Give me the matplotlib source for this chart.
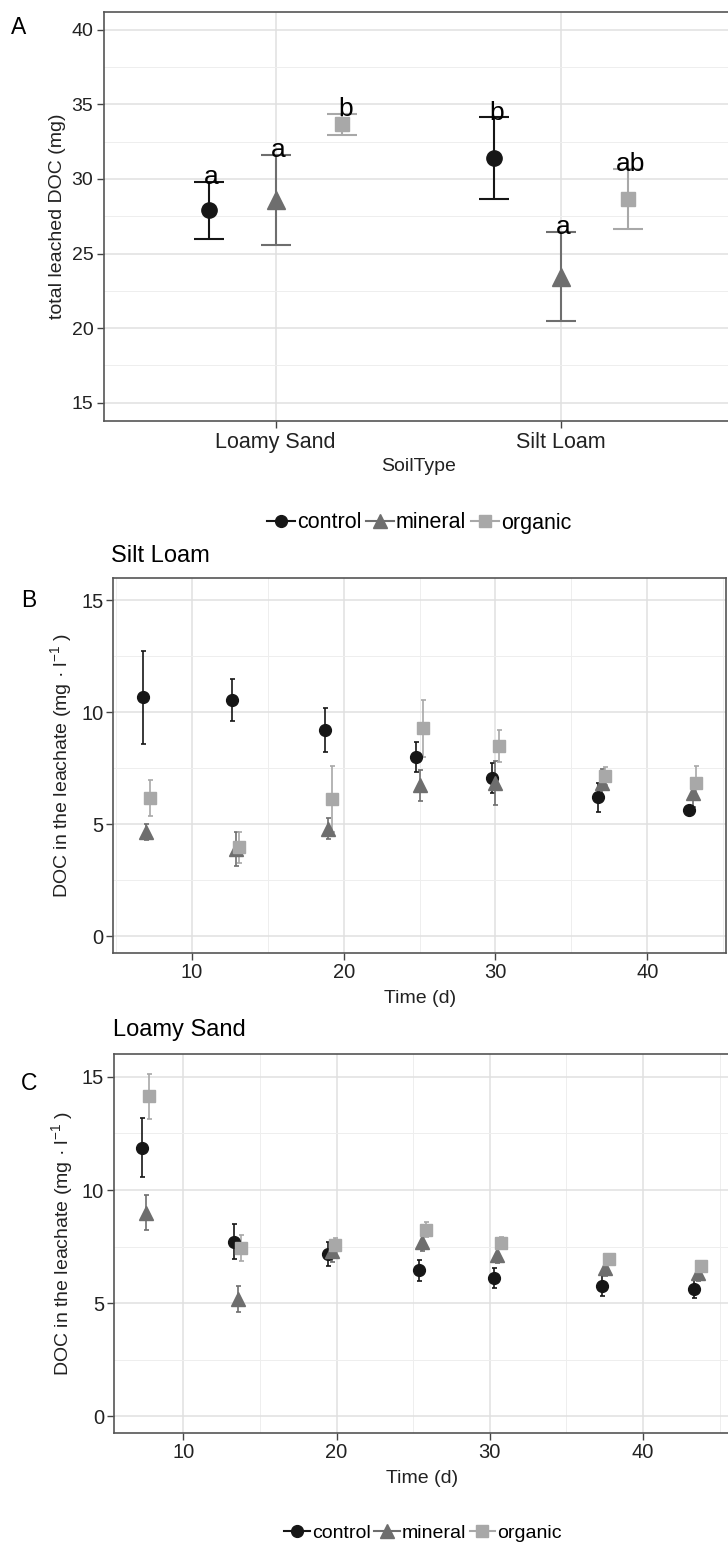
import matplotlib
matplotlib.use('Agg')
import matplotlib.pyplot as plt
from matplotlib.lines import Line2D
from matplotlib.ticker import MultipleLocator
import numpy as np

plt.rcParams['font.family'] = ['Liberation Sans', 'DejaVu Sans']
plt.rcParams['mathtext.fontset'] = 'custom'
plt.rcParams['mathtext.rm'] = 'Liberation Sans'
plt.rcParams['mathtext.it'] = 'Liberation Sans:italic'

# Panel A: total leached DOC per soil type
soil_types = ['Loamy Sand', 'Silt Loam']
treatments = ['control', 'mineral', 'organic']
total_control = [27.9, 31.4]
total_control_se = [1.92, 2.72]
total_mineral = [28.6, 23.45]
total_mineral_se = [3.0, 3.0]
total_organic = [33.65, 28.65]
total_organic_se = [0.68, 2.0]
letters_control = ['a', 'b']
letters_mineral = ['a', 'a']
letters_organic = ['b', 'ab']

# Panel B: Silt Loam time series
days_silt = [7, 12.9, 19, 25, 30, 37, 43]
silt_control = [10.67, 10.55, 9.22, 8.03, 7.08, 6.22, 5.65]
silt_control_se = [2.08, 0.92, 1.0, 0.67, 0.66, 0.65, 0.1]
silt_mineral = [4.66, 3.9, 4.8, 6.75, 6.85, 6.83, 6.39]
silt_mineral_se = [0.35, 0.75, 0.47, 0.7, 1.0, 0.66, 0.6]
silt_organic = [6.18, 3.98, 6.14, 9.29, 8.5, 7.17, 6.87]
silt_organic_se = [0.8, 0.7, 1.47, 1.27, 0.7, 0.41, 0.76]

# Panel C: Loamy Sand time series
days_sand = [7.55, 13.55, 19.7, 25.6, 30.5, 37.55, 43.6]
sand_control = [11.88, 7.72, 7.18, 6.46, 6.10, 5.78, 5.63]
sand_control_se = [1.31, 0.78, 0.53, 0.47, 0.45, 0.47, 0.4]
sand_mineral = [9.0, 5.2, 7.29, 7.69, 7.12, 6.55, 6.33]
sand_mineral_se = [0.77, 0.57, 0.47, 0.37, 0.36, 0.33, 0.33]
sand_organic = [14.15, 7.43, 7.57, 8.24, 7.67, 6.96, 6.63]
sand_organic_se = [1.0, 0.58, 0.32, 0.33, 0.27, 0.22, 0.22]

colors = {'control': '#161616', 'mineral': '#6e6e6e', 'organic': '#a8a8a8'}
markers = {'control': 'o', 'mineral': '^', 'organic': 's'}
ms_big = {'control': 11, 'mineral': 12.5, 'organic': 9.5}
ms_small = {'control': 8.5, 'mineral': 9.5, 'organic': 8}

W, H = 728, 1544
fig = plt.figure(figsize=(W / 100, H / 100), dpi=100)


def px_axes(left, top, right, bottom):
    return fig.add_axes([left / W, 1 - bottom / H, (right - left) / W, (bottom - top) / H])


def style_axes(ax):
    for sp in ax.spines.values():
        sp.set_color('#555555')
        sp.set_linewidth(1.2)
    ax.grid(True, which='major', color='#e0e0e0', lw=1.1)
    ax.grid(True, which='minor', color='#eeeeee', lw=0.7)
    ax.set_axisbelow(True)
    ax.tick_params(which='major', length=5, width=1, color='#444444',
                   labelcolor='#222222', pad=2)
    ax.tick_params(which='minor', length=0)


# ---- A ----
axA = px_axes(104.5, 11.7, 732, 420.7)
style_axes(axA)
xpos = np.arange(1, len(soil_types) + 1)
dodge_a = {'control': -0.234, 'mineral': 0.0, 'organic': 0.234}
a_vals = {'control': (total_control, total_control_se, letters_control),
          'mineral': (total_mineral, total_mineral_se, letters_mineral),
          'organic': (total_organic, total_organic_se, letters_organic)}
for t in treatments:
    m, se, lab = a_vals[t]
    x = xpos + dodge_a[t]
    axA.errorbar(x, m, yerr=se, fmt=markers[t], color=colors[t], ms=ms_big[t],
                 elinewidth=1.5, capsize=10.5, capthick=1.5, zorder=3)
    for xi, mi, si, li in zip(x, m, se, lab):
        axA.text(xi + 0.01, mi + si - 0.15, li, ha='center', va='baseline',
                 fontsize=19, color='black', zorder=4)
axA.set_xlim(0.4, 2.6)
axA.set_ylim(13.8, 41.2)
axA.set_xticks(xpos)
axA.set_xticklabels(soil_types, fontsize=15.5)
axA.yaxis.set_major_locator(MultipleLocator(5))
axA.yaxis.set_minor_locator(MultipleLocator(2.5))
axA.tick_params(axis='y', labelsize=14, pad=3)
axA.tick_params(axis='x', pad=3)
axA.set_ylabel('total leached DOC (mg)', fontsize=14, color='#222222', labelpad=4)
axA.set_xlabel('SoilType', fontsize=14, color='#222222', labelpad=4)
fig.text(18.6 / W, 1 - 27 / H, 'A', fontsize=16.5, ha='center', va='center')


# ---- B and C ----
def time_panel(ax, days, series, xlim):
    style_axes(ax)
    dodge = {'control': -0.24, 'mineral': 0.0, 'organic': 0.22}
    for t in treatments:
        m, se = series[t]
        x = np.array(days) + dodge[t]
        ax.errorbar(x, m, yerr=se, fmt=markers[t], color=colors[t], ms=ms_small[t],
                    elinewidth=1.2, capsize=1.8, capthick=1.2, zorder=3)
    ax.set_xlim(*xlim)
    ax.set_ylim(-0.75, 16.0)
    ax.xaxis.set_major_locator(MultipleLocator(10))
    ax.xaxis.set_minor_locator(MultipleLocator(5))
    ax.yaxis.set_major_locator(MultipleLocator(5))
    ax.yaxis.set_minor_locator(MultipleLocator(2.5))
    ax.tick_params(axis='both', labelsize=14.5)
    ax.set_xlabel('Time (d)', fontsize=14, color='#222222', labelpad=6)
    ax.set_ylabel('DOC in the leachate (mg · l$^{-1}$ )', fontsize=14,
                  color='#222222', labelpad=5)


axB = px_axes(113, 578, 726.3, 953.3)
time_panel(axB, days_silt,
           {'control': (silt_control, silt_control_se),
            'mineral': (silt_mineral, silt_mineral_se),
            'organic': (silt_organic, silt_organic_se)},
           (4.81, 45.2))
fig.text(111 / W, 1 - 556 / H, 'Silt Loam', fontsize=17, ha='left', va='center')
fig.text(29 / W, 1 - 600 / H, 'B', fontsize=16.5, ha='center', va='center')

axC = px_axes(113.7, 1054.3, 731, 1433.3)
time_panel(axC, days_sand,
           {'control': (sand_control, sand_control_se),
            'mineral': (sand_mineral, sand_mineral_se),
            'organic': (sand_organic, sand_organic_se)},
           (5.45, 45.75))
fig.text(113 / W, 1 - 1030 / H, 'Loamy Sand', fontsize=17, ha='left', va='center')
fig.text(29 / W, 1 - 1083 / H, 'C', fontsize=16.5, ha='center', va='center')

# legends
handles = [Line2D([], [], color=colors[t], marker=markers[t], ms=ms_small[t], lw=1.5)
           for t in treatments]
fig.legend(handles, treatments, loc='center', bbox_to_anchor=(419 / W, 1 - 523 / H),
           ncol=3, frameon=False, fontsize=15.5, handlelength=1.3,
           handletextpad=0.1, columnspacing=0.2)
fig.legend(handles, treatments, loc='center', bbox_to_anchor=(423 / W, 1 - 1533 / H),
           ncol=3, frameon=False, fontsize=14, handlelength=1.3,
           handletextpad=0.1, columnspacing=0.2)

fig.savefig('out.png', dpi=100)
